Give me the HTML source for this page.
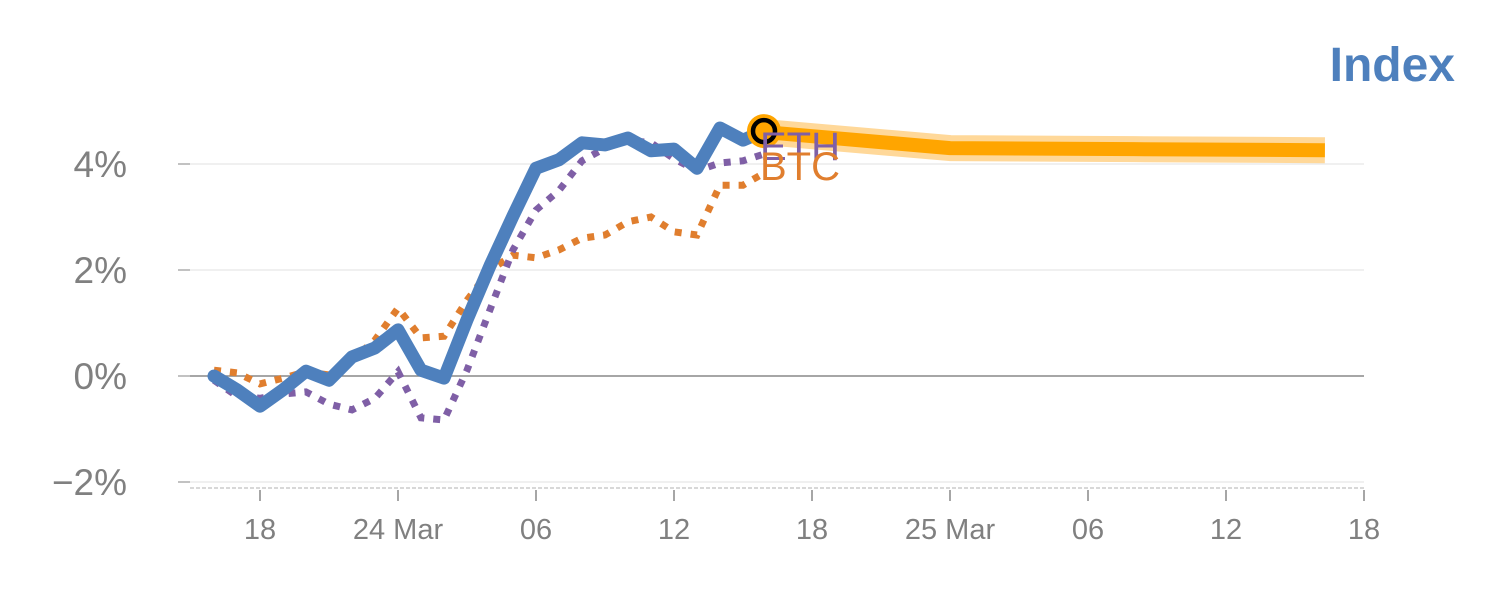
<!DOCTYPE html>
<html><head><meta charset="utf-8"><style>
body{margin:0;background:#fff;}
svg{display:block;font-family:"Liberation Sans",sans-serif;}
</style></head><body>
<svg id="c" width="1500" height="600"></svg>
<script>
const hours=[0,1,2,3,4,5,6,7,8,9,10,11,12,13,14,15,16,17,18,19,20,21,22,23,24];
const indexVals=[0,-0.26,-0.57,-0.26,0.09,-0.08,0.36,0.53,0.87,0.11,-0.04,1.06,2.08,3.02,3.92,4.08,4.4,4.36,4.49,4.25,4.28,3.92,4.68,4.45,4.64];
const ethVals=[-0.08,-0.38,-0.42,-0.34,-0.3,-0.53,-0.64,-0.42,0.08,-0.79,-0.83,0.11,1.25,2.38,3.13,3.5,4.06,4.3,4.45,4.4,4.1,3.87,4.02,4.06,4.2];
const btcVals=[0.11,0.06,-0.15,-0.04,0.08,0.02,0.3,0.68,1.28,0.72,0.75,1.43,2.0,2.28,2.23,2.38,2.6,2.66,2.91,3.0,2.72,2.66,3.6,3.6,3.85];
const fcHours=[24,32,40,48.3];
const fcVals=[4.6,4.3,4.28,4.26];
const yTicks=[-2,0,2,4];
const yTickLabels=["\u22122%","0%","2%","4%"];
const xTickHours=[2,8,14,20,26,32,38,44,50];
const xTickLabels=["18","24 Mar","06","12","18","25 Mar","06","12","18"];

const NS="http://www.w3.org/2000/svg";
const svg=document.getElementById('c');
const X=h=>214+h*23;
const Y=v=>376-v*53;
function el(t,a,p){const e=document.createElementNS(NS,t);for(const k in a)e.setAttribute(k,a[k]);(p||svg).appendChild(e);return e;}
function pts(hs,vs){return hs.map((h,i)=>X(h)+','+Y(vs[i])).join(' ');}

yTicks.forEach((v,i)=>{
  const g=el('line',{x1:190,x2:1364,y1:Y(v),y2:Y(v),stroke:v===0?'#888':'#e6e6e6','stroke-width':v===0?1.5:1.2});
  
  
  const tk=el('line',{x1:178,x2:190,y1:Y(v),y2:Y(v),stroke:'#999','stroke-width':1.2});
  
  
  const t=el('text',{x:127,y:Y(v)+13,'text-anchor':'end','font-size':37,fill:'#808080'});
  t.textContent=yTickLabels[i];
  
  
});
const ax=el('line',{x1:190,x2:1364,y1:488,y2:488,stroke:'#ccc','stroke-width':1.5,'stroke-dasharray':'4,2'});


xTickHours.forEach((h,i)=>{
  const tk=el('line',{x1:X(h),x2:X(h),y1:490,y2:501,stroke:'#888','stroke-width':1.5});
  
  
  const t=el('text',{x:X(h),y:539,'text-anchor':'middle','font-size':29,fill:'#808080'});
  t.textContent=xTickLabels[i];
  
  
});

const f1=el('polyline',{points:pts(fcHours,fcVals),fill:'none',stroke:'#ffd899','stroke-width':26,'stroke-linejoin':'round'});


const f2=el('polyline',{points:pts(fcHours,fcVals),fill:'none',stroke:'#ffa500','stroke-width':14,'stroke-linejoin':'round'});



const bl=el('polyline',{points:pts(hours,btcVals),fill:'none',stroke:'#e07e2e','stroke-width':7,'stroke-dasharray':'7,9'});


const el2=el('polyline',{points:pts(hours,ethVals),fill:'none',stroke:'#7f5fa6','stroke-width':7,'stroke-dasharray':'7,9'});


const il=el('polyline',{points:pts(hours,indexVals),fill:'none',stroke:'#4e80bd','stroke-width':13,'stroke-linejoin':'round','stroke-linecap':'round'});



const last=hours.length-1;
const m1=el('circle',{cx:X(hours[last])-2,cy:Y(indexVals[last])+1,r:17,fill:'#ffa500'});


const m2=el('circle',{cx:X(hours[last])-2,cy:Y(indexVals[last])+1,r:11,fill:'#ffa500',stroke:'#000','stroke-width':4.5});



const le=el('text',{x:760,y:160,'font-size':40,fill:'#7f5fa6'});
le.textContent='ETH';


const lb=el('text',{x:760,y:180,'font-size':40,fill:'#e07e2e'});
lb.textContent='BTC';



const ti=el('text',{x:1455,y:81,'text-anchor':'end','font-size':48,'font-weight':'bold',fill:'#4e80bd'});
ti.textContent='Index';


</script>
</body></html>
